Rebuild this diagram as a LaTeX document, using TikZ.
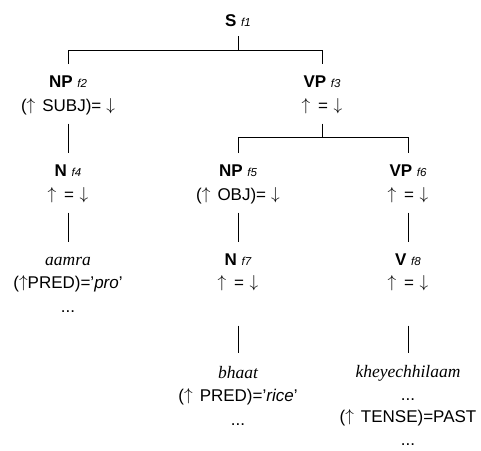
\documentclass[tikz,border=0pt]{standalone}
\usepackage{fontspec}
\setmainfont{Liberation Sans}
\newfontfamily\wordfont{Liberation Serif}
\newcommand\fsub[1]{{\fontsize{11.5}{13}\selectfont\itshape #1}}
\newcommand\lword[1]{{\fontsize{17.5}{23.5}\wordfont\itshape #1}}
\newcommand\UA{\raisebox{1pt}{$\uparrow$}}
\newcommand\DA{\raisebox{1pt}{$\downarrow$}}
\begin{document}
\begin{tikzpicture}[x=1pt,y=1pt,
  lab/.style={anchor=north,align=center,inner sep=0pt,outer sep=0pt,
    font=\fontsize{17}{23.5}\selectfont},
  edge/.style={draw=black,line width=0.9pt}]
\useasboundingbox (0,0) rectangle (481,450);
% row 1
\node[lab] (S) at (238,439.45) {\strut\textbf{S} \fsub{f1}};
% row 2
\node[lab] (NPa) at (68,378.45) {\strut\textbf{NP} \fsub{f2}\\\strut(\UA\hspace{7pt}SUBJ)=\hspace{5pt}\DA};
\node[lab] (VPa) at (322,378.45) {\strut\textbf{VP} \fsub{f3}\\\strut\UA\hspace{3pt} = \hspace{1pt}\DA};
% row 3
\node[lab] (Na) at (68,289.45) {\strut\textbf{N} \fsub{f4}\\\strut\UA\hspace{3pt} = \hspace{1pt}\DA};
\node[lab] (NPb) at (238,289.45) {\strut\textbf{NP} \fsub{f5}\\\strut(\UA\hspace{7pt}OBJ)=\hspace{5pt}\DA};
\node[lab] (VPb) at (408,289.45) {\strut\textbf{VP} \fsub{f6}\\\strut\UA\hspace{3pt} = \hspace{1pt}\DA};
% row 4
\node[lab] (aamra) at (68,201.45) {\strut\lword{aamra}\\\strut(\UA PRED)='\textit{pro}'\\\strut...};
\node[lab] (Nb) at (238,201.45) {\strut\textbf{N} \fsub{f7}\\\strut\UA\hspace{3pt} = \hspace{1pt}\DA};
\node[lab] (Vb) at (408,201.45) {\strut\textbf{V} \fsub{f8}\\\strut\UA\hspace{3pt} = \hspace{1pt}\DA};
% row 5
\node[lab] (bhaat) at (238,88.45) {\strut\lword{bhaat}\\\strut(\UA\hspace{7pt}PRED)='\textit{rice}'\\\strut...};
\node[lab,font=\fontsize{17}{22.7}\selectfont] (khey) at (408,88.45) {\strut\lword{kheyechhilaam}\\\strut...\\\strut(\UA\hspace{7pt}TENSE)=PAST\\\strut...};
% connectors
\draw[edge] ([yshift=-2pt]S.south) -- ([yshift=-16pt]S.south) coordinate (j1);
\draw[edge] ([yshift=7.5pt]NPa.north) |- (j1) -| ([yshift=7.5pt]VPa.north);
\draw[edge] ([yshift=-5pt]NPa.south) -- ([yshift=7.5pt]Na.north);
\draw[edge] ([yshift=-5pt]VPa.south) -- ([yshift=-19pt]VPa.south) coordinate (j2);
\draw[edge] ([yshift=7.5pt]NPb.north) |- (j2) -| ([yshift=7.5pt]VPb.north);
\draw[edge] ([yshift=-5pt]Na.south) -- ([yshift=6.5pt]aamra.north);
\draw[edge] ([yshift=-5pt]NPb.south) -- ([yshift=6.5pt]Nb.north);
\draw[edge] ([yshift=-5pt]VPb.south) -- ([yshift=6.5pt]Vb.north);
\draw[edge] ([yshift=-30pt]Nb.south) -- ([yshift=8.5pt]bhaat.north);
\draw[edge] ([yshift=-30pt]Vb.south) -- ([yshift=8.5pt]khey.north);
\end{tikzpicture}
\end{document}
